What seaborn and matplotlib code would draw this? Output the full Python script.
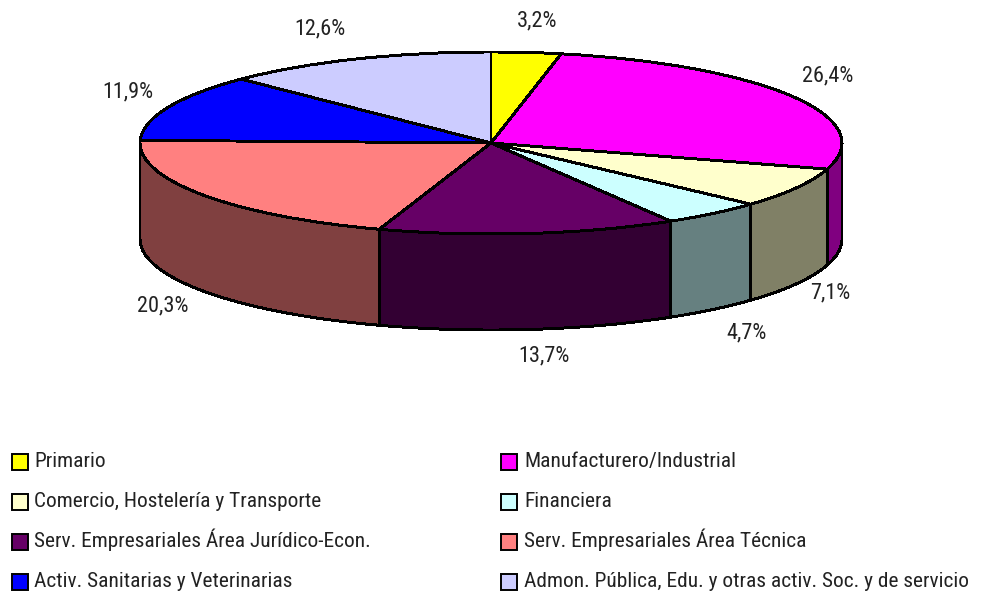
import numpy as np
import matplotlib
matplotlib.use("Agg")
import matplotlib.pyplot as plt
from matplotlib.patches import Rectangle
import seaborn as sns

# sector data, clockwise from the top
sectors = [
    "Primario",
    "Manufacturero/Industrial",
    "Comercio, Hostelería y Transporte",
    "Financiera",
    "Serv. Empresariales Área Jurídico-Econ.",
    "Serv. Empresariales Área Técnica",
    "Activ. Sanitarias y Veterinarias",
    "Admon. Pública, Edu. y otras activ. Soc. y de servicio",
]
shares = [3.2, 26.4, 7.1, 4.7, 13.7, 20.3, 11.9, 12.6]
share_labels = ["3,2%", "26,4%", "7,1%", "4,7%", "13,7%", "20,3%", "11,9%", "12,6%"]
top_colors = ["#ffff00", "#ff00ff", "#ffffcc", "#ccffff", "#660066", "#ff8080", "#0000ff", "#ccccff"]

W, H = 983, 591
CX, CY, RX, RY, DEPTH = 491, 143, 351, 91, 96
# label centres in pixels
label_px = [(537, 21), (828, 76), (830, 293), (747, 333), (544, 356), (163, 306), (128, 92), (320, 29)]

sns.set_theme(style="white")
plt.rcParams["font.family"] = ["Roboto Condensed", "Liberation Sans", "DejaVu Sans"]
TEXT_COLOR = "#222222"

palette = sns.color_palette(top_colors)
side_colors = [tuple(c * 0.5 for c in col) for col in palette]

fig = plt.figure(figsize=(W / 100, H / 100), dpi=100)
ax = fig.add_axes([0, 0, 1, 1])

wedges, _ = ax.pie(
    shares,
    colors=palette,
    startangle=90,
    counterclock=False,
    radius=1,
    wedgeprops={"edgecolor": "black", "linewidth": 1.4, "zorder": 3, "antialiased": False},
)
ax.set_aspect("auto")
ax.set_xlim(-CX / RX, (W - CX) / RX)
ax.set_ylim((CY - H) / RY, CY / RY)
ax.axis("off")

# side walls of the disc, only the front half is visible
bounds = np.cumsum([0] + shares) / sum(shares) * 2 * np.pi
depth = DEPTH / RY
for i in range(len(shares)):
    start = max(bounds[i], np.pi / 2)
    stop = min(bounds[i + 1], 3 * np.pi / 2)
    if stop <= start:
        continue
    t = np.linspace(start, stop, 60)
    xs = np.concatenate([np.sin(t), np.sin(t[::-1])])
    ys = np.concatenate([np.cos(t), np.cos(t[::-1]) - depth])
    ax.fill(xs, ys, facecolor=side_colors[i], edgecolor="black", linewidth=1.4, zorder=2, antialiased=False)

for label, (px, py) in zip(share_labels, label_px):
    fig.text(px / W, 1 - py / H, label, ha="center", va="center", fontsize=16, color=TEXT_COLOR)

# legend laid out by hand, the library legend gives uneven row gaps here
for i, name in enumerate(sectors):
    row, col = i // 2, i % 2
    box_x = 12 if col == 0 else 501
    text_x = 34 if col == 0 else 524
    box_y = 454 + 40 * row
    base_y = 467 + 40 * row
    fig.add_artist(Rectangle(
        (box_x / W, 1 - (box_y + 16) / H), 16 / W, 16 / H,
        transform=fig.transFigure, facecolor=palette[i], edgecolor="black", linewidth=1.4,
    ))
    fig.text(text_x / W, 1 - base_y / H, name, ha="left", va="baseline", fontsize=15.4, color=TEXT_COLOR)

fig.savefig("out.png", dpi=100)
